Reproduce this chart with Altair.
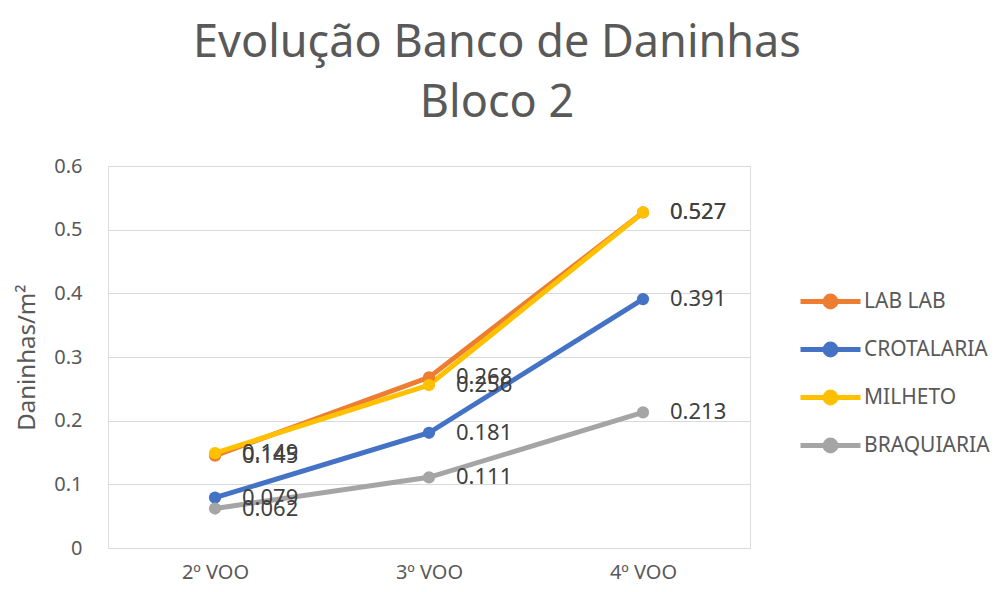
import altair as alt
import pandas as pd

categories = ["2º VOO", "3º VOO", "4º VOO"]
series_names = ["LAB LAB", "CROTALARIA", "MILHETO", "BRAQUIARIA"]
lab_lab = [0.145, 0.268, 0.527]
crotalaria = [0.079, 0.181, 0.391]
milheto = [0.149, 0.256, 0.527]
braquiaria = [0.062, 0.111, 0.213]
colors = ["#ED7D31", "#4472C4", "#FFC000", "#A5A5A5"]

rows = []
for order, (name, vals) in enumerate(zip(series_names, [lab_lab, crotalaria, milheto, braquiaria])):
    for c, v in zip(categories, vals):
        rows.append({"cat": c, "serie": name, "val": v, "ord": order, "lbl": f"{v:.3f}"})
df = pd.DataFrame(rows)

FONT = "Noto Sans"

x = alt.X("cat:N", sort=categories, scale=alt.Scale(type="point", padding=0.5),
          axis=alt.Axis(title=None, labelAngle=0, ticks=False, domain=False, grid=False,
                        labelFontSize=20, labelColor="#595959", labelFont=FONT, labelPadding=14))
y = alt.Y("val:Q", scale=alt.Scale(domain=[0, 0.6], nice=False),
          axis=alt.Axis(title="Daninhas/m²", values=[0, 0.1, 0.2, 0.3, 0.4, 0.5, 0.6], format="~g",
                        ticks=False, domain=False, gridColor="#D9D9D9", gridWidth=1,
                        labelFontSize=20, labelColor="#595959", labelFont=FONT, labelPadding=26,
                        titleFontSize=24, titleColor="#595959", titleFont=FONT, titleFontWeight="normal",
                        titlePadding=14))
color = alt.Color("serie:N", sort=series_names,
                  scale=alt.Scale(domain=series_names, range=colors),
                  legend=alt.Legend(title=None, orient="none", legendX=690, legendY=103,
                                    symbolType="M-1,0H1M-0.18,0a0.18,0.18 0 1,0 0.36,0a0.18,0.18 0 1,0 -0.36,0",
                                    symbolSize=3600, symbolStrokeWidth=5, symbolOpacity=1,
                                    labelFontSize=21, labelColor="#595959", labelFont=FONT,
                                    rowPadding=-4, labelOffset=1))

base = alt.Chart(df)
lines = base.mark_line(strokeWidth=5).encode(x=x, y=y, color=color, order="ord:Q",
                                             detail="serie:N")
points = base.mark_point(filled=True, size=150, opacity=1).encode(
    x=x, y=y,
    color=alt.Color("serie:N", sort=series_names, scale=alt.Scale(domain=series_names, range=colors), legend=None))
texts = base.mark_text(align="left", baseline="middle", dx=27, fontSize=22, color="#404040", font=FONT).encode(
    x=x, y=y, text="lbl:N")

chart = alt.layer(lines, points, texts).properties(
    width=642, height=382,
    autosize=alt.AutoSizeParams(type="none"),
    padding={"left": 100, "top": 158, "right": 246, "bottom": 36},
    title=alt.TitleParams(text=["Evolução Banco de Daninhas", "Bloco 2"], fontSize=45, font=FONT,
                          fontWeight="normal", color="#595959", anchor="middle", dx=68, offset=30,
                          lineHeight=60),
).configure_view(stroke=None).configure(background="white")

chart.save("out.html", embed_options={"renderer": "svg", "actions": False})
